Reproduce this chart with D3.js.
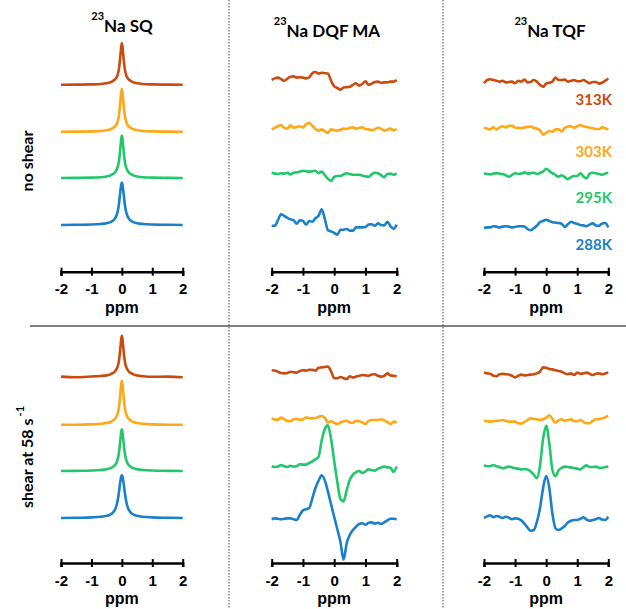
<!DOCTYPE html>
<html>
<head>
<meta charset="utf-8">
<script src="https://cdn.jsdelivr.net/npm/d3@7"></script>
<style>
  body { margin: 0; background: #fff; }
  .lbl { font-family: Lato, "Open Sans", sans-serif; font-weight: 700; }
  .tick text { font-family: "Liberation Sans", Arial, sans-serif; font-weight: 700; font-size: 15px; }
</style>
</head>
<body>
<div id="chart"></div>
<script>
// temperatures, top trace first
var temps = ["313K", "303K", "295K", "288K"];
var tickVals = [-2, -1, 0, 1, 2];

// ppm points used for the SQ spectra (denser around the peak)
var sqPpm = [-2, -1.5, -1, -0.7, -0.5, -0.4, -0.3, -0.24, -0.18, -0.14, -0.1, -0.07, -0.04, -0.02, 0,
             0.02, 0.04, 0.07, 0.1, 0.14, 0.18, 0.24, 0.3, 0.4, 0.5, 0.7, 1, 1.5, 2];
// ppm points used for DQF / TQF spectra
var mqPpm = [-2, -1.9, -1.8, -1.7, -1.6, -1.5, -1.4, -1.3, -1.2, -1.1, -1, -0.9, -0.8, -0.7, -0.6, -0.5, -0.4, -0.3, -0.2, -0.1,
             0, 0.1, 0.2, 0.3, 0.4, 0.5, 0.6, 0.7, 0.8, 0.9, 1, 1.1, 1.2, 1.3, 1.4, 1.5, 1.6, 1.7, 1.8, 1.9, 2];

// no shear, SQ
var sq_ns_313 = [-0.2, -0.16, -0.1, 0.0, 0.18, 0.35, 0.7, 1.05, 1.6, 2.3, 3.6, 5.4, 7.8, 9.4, 10.2, 9.4, 7.8, 5.4, 3.6, 2.3, 1.6, 1.05, 0.7, 0.35, 0.18, 0.0, -0.1, -0.16, -0.2];
var sq_ns_303 = [-0.2, -0.16, -0.1, 0.0, 0.18, 0.35, 0.7, 1.05, 1.6, 2.4, 3.7, 5.6, 8.1, 9.7, 10.5, 9.7, 8.1, 5.6, 3.7, 2.4, 1.6, 1.05, 0.7, 0.35, 0.18, 0.0, -0.1, -0.16, -0.2];
var sq_ns_295 = [0, 0.04, 0.1, 0.2, 0.4, 0.58, 0.95, 1.3, 1.9, 2.7, 4.0, 5.9, 8.3, 9.8, 10.6, 9.8, 8.3, 5.9, 4.0, 2.7, 1.9, 1.3, 0.95, 0.58, 0.4, 0.2, 0.1, 0.04, 0];
var sq_ns_288 = [0, 0.05, 0.12, 0.25, 0.45, 0.65, 1.05, 1.5, 2.3, 3.3, 5.0, 7.0, 9.0, 10.1, 10.6, 10.1, 9.0, 7.0, 5.0, 3.3, 2.3, 1.5, 1.05, 0.65, 0.45, 0.25, 0.12, 0.05, 0];

// no shear, DQF MA
var dqf_ns_313 = [1.0, 1.4, 1.6, 1.2, 0.8, 1.3, 1.8, 1.9, 1.6, 1.7, 1.6, 1.4, 1.7, 2.7, 3.0, 2.6, 2.8, 2.7, 2.6, 0.8, -0.6, -1.0, -1.4, -0.9, -0.8, -0.7, -0.2, 0.2, -0.4, 0.0, 0.7, -0.2, 0.1, 0.5, 0.6, 0.3, 0.4, 0.4, 0.6, 0.6, 1.0];
var dqf_ns_303 = [0.4, 0.8, 1.2, 1.5, 0.8, 0.6, 1.4, 0.8, 1.0, 1.2, 0.9, 1.7, 2.0, 1.3, 0.5, 0.1, 0.4, -0.1, -0.5, 0.4, 0.2, 0.1, 0.3, 0.6, 0.5, 0.8, 0.9, 0.6, 0.8, 0.9, 0.5, 0.4, 0.2, 0.4, 0.8, 0.6, 0.1, 0.3, 0.6, 0.2, 0.5];
var dqf_ns_295 = [1.3, 1.1, 1.0, 1.2, 1.1, 1.3, 0.9, 1.3, 1.4, 1.6, 1.8, 1.7, 1.6, 1.7, 1.8, 1.2, 1.6, 0.7, -0.2, -0.7, 0.3, 0.5, 0.5, 0.9, 1.2, 1.0, 0.8, 0.8, 0.8, 0.6, 0.4, 0.3, 0.9, 1.3, 1.2, 0.7, 0.2, 1.0, 1.1, 0.8, 1.2];
var dqf_ns_288 = [-0.2, -0.2, 1.2, 2.7, 2.3, 1.8, 1.4, 1.2, 0.3, 1.2, 1.0, 0.1, 1.0, 0.8, 1.7, 2.3, 3.9, 1.5, -1.3, -1.6, -2.0, -2.4, -1.2, -1.2, -1.0, -1.4, -1.4, -0.6, -0.6, -0.6, -0.5, 0.1, 0.2, -0.2, 0.4, 0.0, -0.1, 0.8, -0.3, -0.9, 0.1];

// no shear, TQF
var tqf_ns_313 = [0.2, 1.0, 1.2, 1.0, 0.8, 0.6, 0.8, 0.4, 0.5, 0.6, 0.2, 0.8, 0.6, 1.1, 0.4, 0.5, 1.0, 0.6, -0.2, -0.7, 0.1, 0.3, 0.6, 1.6, 1.0, 1.0, 1.1, 0.6, 0.8, 1.0, 0.7, 0.7, 1.0, 0.6, 0.2, 0.5, 0.5, 0.1, 0.3, 0.8, 1.4];
var tqf_ns_303 = [0.8, 0.6, 0.4, 0.9, 0.4, 0.9, 1.2, 0.9, 1.3, 1.3, 0.9, 0.8, 0.7, 0.9, 1.0, 1.1, 0.8, 0.6, 0.2, -0.9, -0.5, 0.0, -0.2, 0.4, 0.4, -0.1, 0.8, 1.1, 1.2, 0.8, 1.2, 1.5, 1.2, 1.0, 0.8, 0.7, 0.5, 0.5, 0.9, 0.7, 0.4];
var tqf_ns_295 = [1.2, 1.0, 0.9, 1.1, 1.2, 1.1, 1.0, 0.7, 0.3, 0.8, 1.2, 1.0, 1.1, 1.4, 1.1, 1.2, 1.3, 1.0, 1.3, 1.6, 2.3, 1.8, 1.2, 0.8, 0.3, 0.7, 0.2, -0.3, 0.2, 0.5, 0.5, 1.2, 0.4, -0.1, 1.1, 1.3, 1.2, 1.0, 0.8, 1.1, 1.3];
var tqf_ns_288 = [-0.8, -0.6, -0.6, -0.3, -0.4, -0.6, -0.4, -0.3, -0.4, -0.6, -0.5, -0.3, -0.3, -0.4, -1.0, -1.3, -0.8, -0.2, 0.7, 1.0, 1.3, 1.0, 0.7, 0.6, 0.5, 0.3, -0.5, 0.2, 0.8, 0.5, 0.3, 0.0, -0.1, -0.3, 0.1, 0.4, -0.1, -0.2, 0.4, 0.5, -0.6];

// shear at 58 s-1, SQ
var sq_sh_313 = [0.1, -0.05, 0.12, 0.25, 0.4, 0.6, 0.95, 1.3, 1.9, 2.6, 3.8, 5.6, 7.9, 9.5, 10.3, 9.5, 7.9, 5.6, 3.8, 2.6, 1.9, 1.3, 0.95, 0.6, 0.4, 0.2, 0.05, 0.1, -0.05];
var sq_sh_303 = [-0.2, -0.2, -0.1, 0.05, 0.25, 0.45, 0.8, 1.2, 1.8, 2.6, 3.9, 5.9, 8.4, 10.0, 10.8, 10.0, 8.4, 5.9, 3.9, 2.6, 1.8, 1.2, 0.8, 0.45, 0.25, 0.05, -0.1, -0.2, -0.2];
var sq_sh_295 = [0, 0.04, 0.12, 0.25, 0.45, 0.65, 1.0, 1.4, 2.0, 2.9, 4.3, 6.2, 8.4, 9.8, 10.4, 9.8, 8.4, 6.2, 4.3, 2.9, 2.0, 1.4, 1.0, 0.65, 0.45, 0.25, 0.12, 0.04, 0];
var sq_sh_288 = [0, 0.06, 0.15, 0.3, 0.55, 0.8, 1.3, 1.9, 3.0, 4.3, 6.2, 8.0, 9.6, 10.4, 10.7, 10.4, 9.6, 8.0, 6.2, 4.3, 3.0, 1.9, 1.3, 0.8, 0.55, 0.3, 0.15, 0.06, 0];

// shear at 58 s-1, DQF MA
var dqf_sh_313 = [1.7, 1.6, 1.3, 1.0, 0.9, 1.0, 1.3, 1.2, 1.1, 1.5, 1.7, 1.6, 1.8, 1.8, 1.6, 2.3, 2.4, 2.5, 2.6, 1.4, -0.3, -0.3, 0.0, -0.3, -0.5, 0.2, -0.1, 0.1, 0.3, 0.5, 0.4, 0.3, 0.6, 0.7, 0.3, 0.1, 0.3, 0.9, 0.4, 0.3, 0.1];
var dqf_sh_303 = [1.4, 1.1, 1.1, 1.6, 1.2, 0.7, 0.7, 1.2, 1.3, 1.0, 1.2, 1.6, 1.5, 1.4, 1.5, 1.8, 2.0, 1.5, 0.4, 0.7, 0.3, 0.0, 0.4, 0.7, 0.8, 0.4, 0.3, 0.8, 0.7, 0.4, 0.0, 0.8, 1.0, 1.0, 1.0, 1.2, 0.9, 0.5, 0.0, 0.6, 0.3];
var dqf_sh_295 = [1.2, 1.0, 1.1, 1.5, 1.2, 1.0, 1.3, 1.1, 1.2, 1.7, 1.6, 1.6, 2.0, 2.4, 2.9, 3.6, 7.7, 10.5, 11.4, 8.0, 2.5, -2.8, -7.0, -7.6, -4.8, -2.2, -0.9, -0.3, 0.0, -0.5, -0.1, 0.4, 0.2, 0.1, 0.6, 0.9, 1.1, 0.9, 0.8, -0.2, 1.1];
var dqf_sh_288 = [-0.3, -0.1, -0.2, -0.3, -0.2, -0.1, -0.1, -0.3, -0.5, 0.8, 1.9, 2.2, 2.5, 4.9, 7.5, 9.3, 10.7, 9.4, 6.6, 3.4, 0.3, -2.8, -6.0, -10.4, -6.3, -4.2, -3.0, -2.2, -1.5, -1.3, -1.7, -1.2, -1.1, -1.4, -1.2, -1.5, -1.1, -0.6, -0.2, -0.2, -0.3];

// shear at 58 s-1, TQF
var tqf_sh_313 = [1.1, 0.9, 0.8, 0.3, 0.2, 0.7, 0.8, 0.7, 0.6, 0.3, -0.1, 0.3, 0.6, 0.4, 0.5, 0.6, 0.7, 0.9, 1.3, 2.4, 2.3, 2.0, 1.9, 1.7, 1.5, 1.3, 0.9, 0.7, 0.9, 0.5, 1.1, 0.8, 0.9, 1.1, 0.8, 0.5, 0.8, 0.9, 0.7, 0.9, 1.1];
var tqf_sh_303 = [0.8, 0.7, 0.6, 0.7, 0.8, 0.8, 1.0, 0.8, 0.6, 0.6, 0.6, 0.2, 0.1, 0.5, 1.0, 1.4, 1.3, 1.2, 1.0, 1.2, 1.6, 2.2, 1.3, 0.3, 0.9, 1.2, 0.8, 1.0, 1.2, 0.7, 0.7, 1.0, 0.5, 0.2, 0.2, 0.8, 1.2, 1.2, 1.4, 1.7, 2.0];
var tqf_sh_295 = [1.5, 1.2, 1.2, 1.5, 1.2, 1.0, 0.7, 0.9, 1.1, 0.9, 0.7, 0.6, 0.4, 0.5, 0.4, -0.1, -0.9, -1.8, 1.2, 8.0, 11.3, 7.0, 0.3, -1.3, 0.2, 0.8, 1.1, 1.0, 0.9, 0.7, 0.6, 0.4, 1.0, 1.4, 1.0, 1.0, 1.1, 0.8, 0.8, 1.0, 1.1];
var tqf_sh_288 = [0.0, 0.4, 0.7, 0.2, 0.5, 0.3, 0.0, 0.3, 0.1, -0.3, -0.1, -0.2, -0.6, -1.4, -2.4, -3.2, -3.0, -1.0, 2.4, 7.4, 10.5, 7.6, 1.2, -2.6, -3.0, -2.6, -2.0, -1.1, -0.7, -0.5, -0.5, -0.2, 0.2, -0.4, -0.7, -0.5, -0.3, 0.0, -0.4, -0.5, 0.3];

// ---- layout ----
var width = 626, height = 609;
var colors = ["#cb4a0d", "#ffa714", "#21c86b", "#1b80ca"];
var colX = [[61, 182.7], [271.7, 396.7], [484, 608.3]];
var rowBase = [225, 518],   // baseline of the bottom (288K) trace
    rowAxis = [271.7, 563];
var traceGap = 47, unitPx = 4;

var panels = [
  {row: 0, col: 0, ppm: sqPpm, series: [sq_ns_313, sq_ns_303, sq_ns_295, sq_ns_288]},
  {row: 0, col: 1, ppm: mqPpm, series: [dqf_ns_313, dqf_ns_303, dqf_ns_295, dqf_ns_288]},
  {row: 0, col: 2, ppm: mqPpm, series: [tqf_ns_313, tqf_ns_303, tqf_ns_295, tqf_ns_288]},
  {row: 1, col: 0, ppm: sqPpm, series: [sq_sh_313, sq_sh_303, sq_sh_295, sq_sh_288]},
  {row: 1, col: 1, ppm: mqPpm, series: [dqf_sh_313, dqf_sh_303, dqf_sh_295, dqf_sh_288]},
  {row: 1, col: 2, ppm: mqPpm, series: [tqf_sh_313, tqf_sh_303, tqf_sh_295, tqf_sh_288]}
];

var svg = d3.select("#chart").append("svg")
    .attr("width", width)
    .attr("height", height);

// separators
svg.append("line")
    .attr("x1", 30).attr("x2", width).attr("y1", 326).attr("y2", 326)
    .attr("stroke", "#555").attr("stroke-width", 1.5);
[229, 443].forEach(function(x) {
  svg.append("line")
      .attr("x1", x).attr("x2", x).attr("y1", 0).attr("y2", height)
      .attr("stroke", "#444").attr("stroke-width", 1)
      .attr("stroke-dasharray", "1.5,1.5");
});

panels.forEach(function(p) {
  var x = d3.scaleLinear().domain([-2, 2]).range(colX[p.col]);
  var base = rowBase[p.row];
  var y = d3.scaleLinear().domain([0, 10]).range([base, base - 10 * unitPx]);

  p.series.forEach(function(vals, i) {
    var offset = (3 - i) * traceGap / unitPx;
    var line = d3.line()
      .x(function(d, j) { return x(p.ppm[j]); })
      .y(function(d) { return y(d + offset); })
      .curve(d3.curveMonotoneX);
    svg.append("path")
      .datum(vals)
      .attr("fill", "none")
      .attr("stroke", colors[i])
      .attr("stroke-width", 2.6)
      .attr("stroke-linejoin", "round")
      .attr("d", line);
  });

  var ax = svg.append("g")
      .attr("transform", "translate(0," + rowAxis[p.row] + ")")
      .call(d3.axisBottom(x).tickValues(tickVals).tickSizeOuter(0).tickSize(4)
              .tickFormat(function(d) { return String(d); }));
  ax.select(".domain").attr("stroke", "#000").attr("stroke-width", 2.5);
  ax.selectAll(".tick line").attr("y1", -4).attr("y2", 4)
      .attr("stroke", "#000").attr("stroke-width", 2);
  ax.selectAll(".tick text").attr("y", 12).attr("dy", "0.71em").attr("fill", "#000");

  svg.append("text")
      .attr("class", "lbl")
      .attr("x", (colX[p.col][0] + colX[p.col][1]) / 2)
      .attr("y", rowAxis[p.row] + 41)
      .attr("text-anchor", "middle")
      .style("font-family", "'Liberation Sans', Arial, sans-serif")
      .style("font-size", "16px")
      .text("ppm");
});

// column titles
var titles = [
  {t: "Na SQ", x: 122, y: 32},
  {t: "Na DQF MA", x: 327, y: 37},
  {t: "Na TQF", x: 550, y: 37}
];
titles.forEach(function(d) {
  var t = svg.append("text").attr("class", "lbl")
      .attr("x", d.x).attr("y", d.y).attr("text-anchor", "middle")
      .style("font-size", "17px");
  t.append("tspan").style("font-size", "11px").attr("dy", -12).text("23");
  t.append("tspan").attr("dy", 12).text(d.t);
});

// temperature labels
var tempY = [105, 157, 203, 250];
temps.forEach(function(s, i) {
  svg.append("text").attr("class", "lbl")
      .attr("x", 612).attr("y", tempY[i])
      .attr("text-anchor", "end")
      .attr("fill", colors[i])
      .style("font-size", "15px")
      .text(s);
});

// row labels
svg.append("text").attr("class", "lbl")
    .attr("transform", "translate(33,161) rotate(-90)")
    .attr("text-anchor", "middle")
    .style("font-size", "16px")
    .text("no shear");

var rl = svg.append("text").attr("class", "lbl")
    .attr("transform", "translate(33,508) rotate(-90)")
    .style("font-size", "16px");
rl.append("tspan").text("shear at 58 s");
rl.append("tspan").attr("dy", -9).attr("dx", 2).style("font-size", "11px").text("-1");
</script>
</body>
</html>
